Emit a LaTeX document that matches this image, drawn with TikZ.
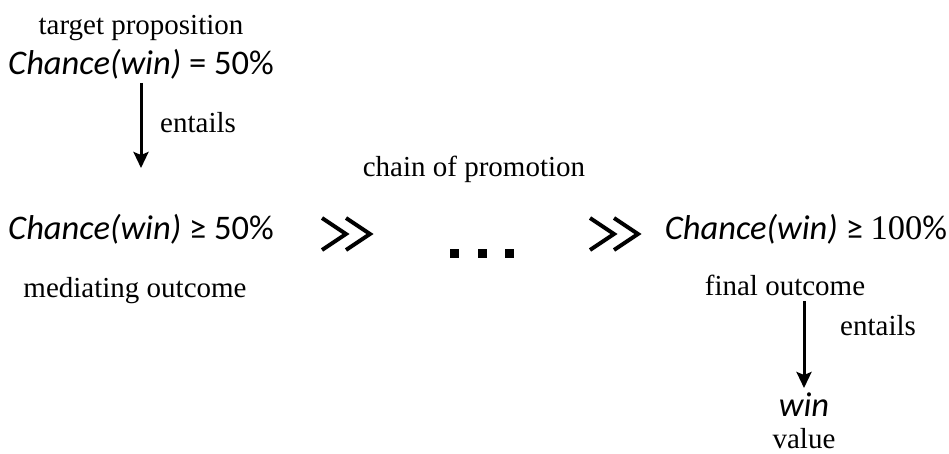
\documentclass[tikz,border=0pt]{standalone}
\usepackage{fontspec}
\setmainfont{Liberation Serif}
\newfontfamily\formfont{Carlito}
\usetikzlibrary{arrows.meta}

\tikzset{
  lbl/.style={font=\fontsize{29}{32}\selectfont, inner sep=0pt, anchor=base},
  form/.style={font=\formfont\fontsize{34.5}{38}\selectfont, inner sep=0pt, anchor=base},
  entail/.style={line width=3pt, -{Stealth[length=16pt,width=15pt,inset=3pt]}},
  chev/.style={line width=4pt, line join=miter}
}

\begin{document}
\begin{tikzpicture}[x=1pt, y=-1pt]
\useasboundingbox (0,0) rectangle (949,454);

% starting claim
\node[lbl] (tgt) at (141,35) {target proposition};
\node[form] (top) at (141,75) {\textit{Chance(win)} = 50\%};

% first outcome on the chain
\node[form] (mid) at (141,240) {\textit{Chance(win)} ≥ 50\%};
\node[lbl] (medlbl) at (135,297) {mediating outcome};
\draw[entail] (top.south) ++(0,3) coordinate (a1) -- (a1 |- 0,168);
\node[lbl, anchor=base west] (ent1) at (160,133) {entails};

% promotion steps
\node[lbl] (chain) at (474,177) {chain of promotion};
\foreach \x in {322,346,590,614} {
  \draw[chev] (\x,218) -- (\x+24,234) -- (\x,250);
}
\foreach \x in {454,482,509} {
  \fill (\x-4.5,249) rectangle (\x+4.5,258);
}

% last outcome and what it secures
\node[form] (res) at (806,240) {\textit{Chance(win)} ≥ {\rmfamily 100}\%};
\node[lbl] (finlbl) at (785,295) {final outcome};
\node[form, text depth=0pt] (win) at (804,416) {\textit{win}};
\node[lbl, text height=0.62em] (val) at (804,448) {value};
\draw[entail] (win |- finlbl.south) ++(0,6) coordinate (a2) -- (a2 |- 0,388);
\node[lbl, anchor=base west] (ent2) at (840,335) {entails};
\end{tikzpicture}
\end{document}
